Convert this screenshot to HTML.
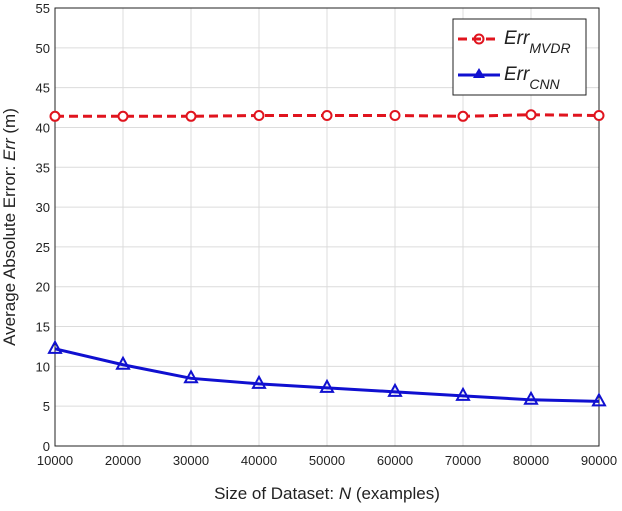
<!DOCTYPE html>
<html><head><meta charset="utf-8"><style>
body{margin:0;background:#fff;}
svg text{font-family:"Liberation Sans",sans-serif;}
</style></head><body>
<svg id="chart" width="622" height="506" xmlns="http://www.w3.org/2000/svg">
<g id="grid"></g>
<g id="axes"></g>
<g id="series"></g>
<text x="327" y="499" font-size="17" text-anchor="middle" fill="#222">Size of Dataset: <tspan font-style="italic">N</tspan> (examples)</text>
<text transform="translate(15,227) rotate(-90)" font-size="17" text-anchor="middle" fill="#222">Average Absolute Error: <tspan font-style="italic">Err</tspan> (m)</text>
<g>
<rect x="453" y="19" width="133" height="76" fill="#fff" stroke="#222" stroke-width="1"/>
<line x1="458" y1="39" x2="500" y2="39" stroke="#e0141e" stroke-width="3" stroke-dasharray="9,5"/>
<circle cx="479" cy="39" r="4.5" fill="none" stroke="#e0141e" stroke-width="2"/>
<text x="504" y="44" font-size="19" font-style="italic" fill="#222">Err<tspan font-size="14" dy="9">MVDR</tspan></text>
<line x1="458" y1="75" x2="500" y2="75" stroke="#1010d0" stroke-width="3"/>
<polygon points="479,68 473,78 485,78" fill="#1010d0"/>
<text x="504" y="80" font-size="19" font-style="italic" fill="#222">Err<tspan font-size="14" dy="9">CNN</tspan></text>
</g>
</svg>
<script>
const categories=[10000,20000,30000,40000,50000,60000,70000,80000,90000];
const mvdrValues=[41.4,41.4,41.4,41.5,41.5,41.5,41.4,41.6,41.5];
const cnnValues=[12.2,10.2,8.5,7.8,7.3,6.8,6.3,5.8,5.6];
const yTicks=[0,5,10,15,20,25,30,35,40,45,50,55];
const L=55,R=599,T=8,B=446;
const xs=v=>L+(v-10000)/80000*(R-L);
const ys=v=>B-v/55*(B-T);
const NS="http://www.w3.org/2000/svg";
function mk(tag,attrs,parent){const e=document.createElementNS(NS,tag);for(const k in attrs)e.setAttribute(k,attrs[k]);parent.appendChild(e);return e;}
const grid=document.getElementById('grid'),axes=document.getElementById('axes'),series=document.getElementById('series');
mk('rect',{x:L,y:T,width:R-L,height:B-T,fill:'#fff'},grid);
categories.forEach(c=>{const x=xs(c);
const g=mk('line',{x1:x,y1:T,x2:x,y2:B,stroke:'#dcdcdc','stroke-width':1},grid);


const t=mk('text',{x:x,y:465,'font-size':13,'text-anchor':'middle',fill:'#222'},axes);t.textContent=c;

});
yTicks.forEach(v=>{const y=ys(v);
const g=mk('line',{x1:L,y1:y,x2:R,y2:y,stroke:'#dcdcdc','stroke-width':1},grid);


const t=mk('text',{x:L-5,y:y+5,'font-size':13,'text-anchor':'end',fill:'#222'},axes);t.textContent=v;

});
const frame=mk('rect',{x:L,y:T,width:R-L,height:B-T,fill:'none',stroke:'#222','stroke-width':1},axes);


const p1=mk('polyline',{points:categories.map((c,i)=>xs(c)+','+ys(mvdrValues[i])).join(' '),fill:'none',stroke:'#e0141e','stroke-width':3,'stroke-dasharray':'9,5'},series);


categories.forEach((c,i)=>{const m=mk('circle',{cx:xs(c),cy:ys(mvdrValues[i]),r:4.5,fill:'#fff',stroke:'#e0141e','stroke-width':2},series);

});
const p2=mk('polyline',{points:categories.map((c,i)=>xs(c)+','+ys(cnnValues[i])).join(' '),fill:'none',stroke:'#1010d0','stroke-width':3},series);


categories.forEach((c,i)=>{const x=xs(c),y=ys(cnnValues[i]);
const m=mk('polygon',{points:`${x},${y-7} ${x-6},${y+4} ${x+6},${y+4}`,fill:'none',stroke:'#1010d0','stroke-width':2},series);

});
</script>
</body></html>
